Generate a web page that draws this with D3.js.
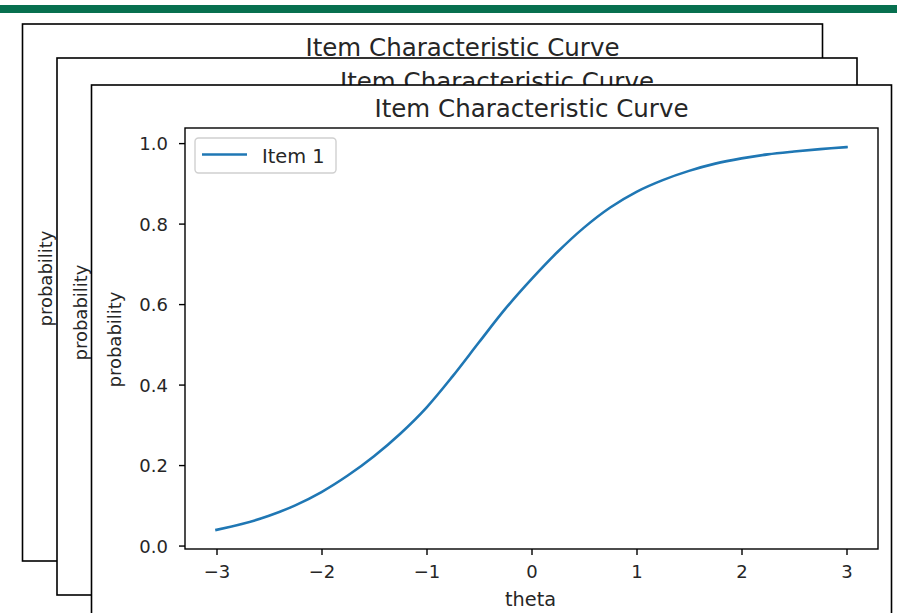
<!DOCTYPE html>
<html>
<head>
<meta charset="utf-8">
<script src="https://cdn.jsdelivr.net/npm/d3@7"></script>
<style>
  html, body { margin: 0; padding: 0; background: #fff; }
  svg { display: block; }
  text { font-family: "DejaVu Sans", sans-serif; fill: #262626; }
</style>
</head>
<body>
<svg id="chart" width="897" height="613"></svg>
<script>
// ---- data ----
const theta = [-3, -2.75, -2.5, -2.25, -2, -1.75, -1.5, -1.25, -1, -0.75, -0.5, -0.25,
               0, 0.25, 0.5, 0.75, 1, 1.25, 1.5, 1.75, 2, 2.25, 2.5, 2.75, 3];
const probability = [0.039, 0.054, 0.074, 0.100, 0.133, 0.174, 0.222, 0.278, 0.343, 0.421, 0.505, 0.588,
                     0.662, 0.730, 0.790, 0.840, 0.879, 0.908, 0.931, 0.949, 0.962, 0.972, 0.979, 0.985, 0.990];
const xTicks = [-3, -2, -1, 0, 1, 2, 3];
const yTicks = [0.0, 0.2, 0.4, 0.6, 0.8, 1.0];
const seriesName = "Item 1";
const chartTitle = "Item Characteristic Curve";
const xLabel = "theta";
const yLabel = "probability";

// ---- layout ----
const svg = d3.select("#chart");
svg.append("rect").attr("x", 0).attr("y", 5).attr("width", 897).attr("height", 8).attr("fill", "#07704f");

const frameW = 800, frameH = 537;
const frames = [[22.5, 24], [57, 58], [91.5, 85]];
const ax = { left: 93.5, right: 786.5, top: 43, bottom: 464 };

const data = theta.map((t, i) => ({ t, p: probability[i] }));

function margin(ext) {
  const r = ext[1] - ext[0];
  return [ext[0] - 0.05 * r, ext[1] + 0.05 * r];
}

const x = d3.scaleLinear().domain(margin(d3.extent(theta))).range([ax.left, ax.right]);
const y = d3.scaleLinear().domain(margin(d3.extent(probability))).range([ax.bottom, ax.top]);

frames.forEach(([fx, fy]) => {
  const g = svg.append("g").attr("transform", `translate(${fx},${fy})`);
  g.append("rect").attr("width", frameW).attr("height", frameH)
    .attr("fill", "#fff").attr("stroke", "#000").attr("stroke-width", 1.6);

  // title
  g.append("text").attr("x", (ax.left + ax.right) / 2).attr("y", 32)
    .attr("text-anchor", "middle").style("font-size", "24.5px").text(chartTitle);

  // curve
  const line = d3.line().x(d => x(d.t)).y(d => y(d.p)).curve(d3.curveCatmullRom);
  g.append("path").datum(data).attr("d", line)
    .attr("fill", "none").attr("stroke", "#1f77b4").attr("stroke-width", 2.6)
    .attr("stroke-linecap", "square");

  // axes
  const xAxis = d3.axisBottom(x).tickValues(xTicks).tickSize(6).tickPadding(6)
    .tickFormat(d => d < 0 ? "\u2212" + Math.abs(d) : String(d));
  const gx = g.append("g").attr("transform", `translate(0,${ax.bottom})`).call(xAxis);
  const yAxis = d3.axisLeft(y).tickValues(yTicks).tickSize(6).tickPadding(11)
    .tickFormat(d3.format(".1f"));
  const gy = g.append("g").attr("transform", `translate(${ax.left},0)`).call(yAxis);
  [gx, gy].forEach(a => {
    a.select(".domain").remove();
    a.selectAll(".tick line").attr("stroke", "#000").attr("stroke-width", 1.4);
    a.selectAll(".tick text").style("font-size", "18px").attr("fill", "#262626")
      .style("font-family", "DejaVu Sans, sans-serif");
  });
  gx.selectAll(".tick text").attr("dy", "0.95em");
  gy.selectAll(".tick text").attr("dy", "0.36em");

  // spines
  g.append("rect").attr("x", ax.left).attr("y", ax.top)
    .attr("width", ax.right - ax.left).attr("height", ax.bottom - ax.top)
    .attr("fill", "none").attr("stroke", "#000").attr("stroke-width", 1.4);

  // axis labels
  g.append("text").attr("x", (ax.left + ax.right) / 2 - 1).attr("y", 521)
    .attr("text-anchor", "middle").style("font-size", "19.3px").text(xLabel);
  g.append("text").attr("transform", `translate(29.5,${(ax.top + ax.bottom) / 2 + 1}) rotate(-90)`)
    .attr("text-anchor", "middle").style("font-size", "18px").text(yLabel);

  // legend
  const lg = g.append("g").attr("transform", `translate(${ax.left + 10},${ax.top + 10})`);
  lg.append("rect").attr("x", 0).attr("y", 0).attr("width", 141).attr("height", 35)
    .attr("rx", 3.5).attr("fill", "#fff").attr("fill-opacity", 0.8)
    .attr("stroke", "#d0d0d0").attr("stroke-width", 1.4);
  lg.append("line").attr("x1", 7).attr("x2", 52).attr("y1", 16.5).attr("y2", 16.5)
    .attr("stroke", "#1f77b4").attr("stroke-width", 2.6);
  lg.append("text").attr("x", 67).attr("y", 24.5).style("font-size", "19.4px").text(seriesName);
});
</script>
</body>
</html>
